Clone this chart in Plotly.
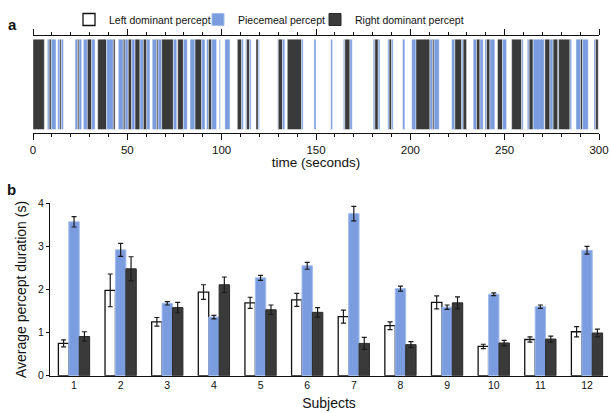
import plotly.graph_objects as go
import numpy as np

# ---------------- Panel a: percept timeline (seconds) ----------------
# P = piecemeal, R = right dominant; gaps are left-dominant (white)
seg_start = [0.0, 7.6, 8.6, 9.7, 13.1, 14.3, 15.1, 22.3, 23.6, 24.4, 26.7, 28.8, 31.1,
             34.3, 39.0, 42.6, 45.2, 47.9, 48.8, 50.5, 52.3, 54.1, 56.7, 58.5, 60.3,
             63.2, 65.5, 66.3, 68.2, 74.4, 76.7, 79.7, 83.2, 85.9, 89.4, 92.0, 93.0, 94.7,
             98.7, 101.7, 108.3, 110.6, 112.6, 113.2, 114.8, 118.2, 119.4,
             129.6, 130.0, 132.3, 134.8, 142.4, 148.9, 157.8, 164.5, 165.3, 168.0,
             180.3, 181.2, 183.0, 188.0, 188.8, 190.1, 195.9, 200.7, 203.0, 210.4, 211.8, 212.6,
             221.9, 223.6, 227.2, 228.0, 233.3, 235.1, 236.9, 239.5, 240.4, 242.2,
             246.2, 248.9, 253.7, 259.0, 262.0, 263.0, 265.1, 271.3, 274.0, 275.7, 278.2, 278.6,
             284.6, 287.8, 290.2, 291.3, 297.3, 298.2]
seg_end = [6.0, 8.6, 9.7, 12.2, 14.3, 15.1, 16.1, 23.6, 24.4, 25.8, 28.8, 31.1, 32.9,
           39.0, 42.6, 43.5, 47.9, 48.8, 50.5, 52.3, 54.1, 56.7, 58.5, 60.3, 62.0,
           65.5, 66.3, 68.2, 74.4, 76.2, 79.7, 81.8, 85.9, 89.4, 91.2, 93.0, 94.7, 97.3,
           99.3, 104.4, 110.6, 111.5, 113.2, 114.8, 115.6, 119.4, 120.0,
           130.0, 132.3, 133.5, 142.4, 143.2, 150.0, 158.8, 165.3, 168.0, 169.2,
           181.2, 183.0, 183.9, 188.8, 190.1, 190.9, 197.1, 203.0, 210.4, 211.8, 212.6, 215.3,
           223.6, 227.2, 228.0, 229.8, 235.1, 236.9, 238.6, 240.4, 242.2, 244.8,
           248.9, 251.0, 259.0, 259.8, 263.0, 265.1, 271.0, 274.0, 275.7, 278.2, 278.6, 284.6,
           285.5, 290.2, 291.3, 294.3, 298.2, 299.6]
seg_type = ['R', 'P', 'R', 'P', 'P', 'R', 'P', 'P', 'R', 'P', 'P', 'R', 'P',
            'R', 'P', 'R', 'P', 'R', 'P', 'R', 'P', 'R', 'P', 'R', 'P',
            'P', 'R', 'P', 'R', 'P', 'R', 'P', 'P', 'R', 'P', 'P', 'R', 'P',
            'P', 'P', 'R', 'P', 'P', 'R', 'P', 'R', 'P',
            'P', 'R', 'P', 'R', 'P', 'P', 'P', 'P', 'R', 'P',
            'P', 'R', 'P', 'P', 'R', 'P', 'P', 'P', 'R', 'P', 'R', 'P',
            'P', 'R', 'P', 'R', 'P', 'R', 'P', 'P', 'R', 'P',
            'R', 'P', 'R', 'P', 'P', 'R', 'P', 'R', 'P', 'R', 'P', 'R',
            'P', 'P', 'R', 'P', 'P', 'R']

time_ticks = [0, 50, 100, 150, 200, 250, 300]

# ---------------- Panel b: average percept durations ----------------
subjects = [str(i) for i in range(1, 13)]
left_mean = [0.75, 1.98, 1.25, 1.94, 1.69, 1.76, 1.37, 1.16, 1.70, 0.68, 0.84, 1.02]
left_err = [0.08, 0.38, 0.10, 0.17, 0.13, 0.15, 0.15, 0.09, 0.15, 0.05, 0.06, 0.12]
pm_mean = [3.57, 2.92, 1.68, 1.36, 2.27, 2.55, 3.76, 2.02, 1.59, 1.89, 1.60, 2.91]
pm_err = [0.12, 0.15, 0.04, 0.04, 0.06, 0.08, 0.17, 0.06, 0.05, 0.03, 0.04, 0.09]
right_mean = [0.91, 2.48, 1.58, 2.11, 1.53, 1.47, 0.75, 0.72, 1.69, 0.76, 0.85, 0.99]
right_err = [0.11, 0.28, 0.12, 0.18, 0.11, 0.11, 0.14, 0.07, 0.14, 0.06, 0.07, 0.09]

BLUE = '#7b9ddf'
DARK = '#3a3a3a'
FONT = 'Liberation Sans, Arial, sans-serif'

fig = go.Figure()

starts = np.array(seg_start)
durs = np.array(seg_end) - starts
cols = [BLUE if t == 'P' else DARK for t in seg_type]
fig.add_trace(go.Bar(
    orientation='h', y=[0] * len(starts), x=durs, base=starts,
    width=1, offset=-0.5, marker=dict(color=cols, line=dict(color='rgba(255,255,255,0.7)', width=0.6)),
    xaxis='x', yaxis='y', showlegend=False, hoverinfo='skip'))

x_idx = list(range(1, 13))
err_style = dict(type='data', color='#1a1a1a', thickness=1.2, width=2.5)
fig.add_trace(go.Bar(name='Left dominant percept', x=x_idx, y=left_mean,
                     error_y=dict(array=left_err, **err_style),
                     marker=dict(color='white', line=dict(color='#111111', width=1.3)),
                     xaxis='x2', yaxis='y2', legend='legend'))
fig.add_trace(go.Bar(name='Piecemeal percept', x=x_idx, y=pm_mean,
                     error_y=dict(array=pm_err, **err_style),
                     marker=dict(color=BLUE, line=dict(color='#a3bcec', width=1)),
                     xaxis='x2', yaxis='y2', legend='legend2'))
fig.add_trace(go.Bar(name='Right dominant percept', x=x_idx, y=right_mean,
                     error_y=dict(array=right_err, **err_style),
                     marker=dict(color=DARK, line=dict(color='#2a2a2a', width=1)),
                     xaxis='x2', yaxis='y2', legend='legend3'))

leg_common = dict(orientation='h', y=1 - 5 / 413, yanchor='top', xanchor='left',
                  font=dict(size=10.5), itemwidth=30, bgcolor='rgba(0,0,0,0)')

fig.update_layout(
    width=610, height=413,
    margin=dict(l=0, r=0, t=0, b=0, autoexpand=False),
    paper_bgcolor='white', plot_bgcolor='white',
    font=dict(family=FONT, size=11, color='#111111'),
    barmode='group', bargap=0.33, bargroupgap=0,
    showlegend=True,
    legend=dict(x=69 / 610, **leg_common),
    legend2=dict(x=198 / 610, **leg_common),
    legend3=dict(x=315 / 610, **leg_common),
    xaxis=dict(domain=[33 / 610, 599 / 610], range=[0, 300], anchor='y',
               tickvals=time_ticks, ticks='outside', ticklen=6, tickwidth=1, tickcolor='#111',
               showline=True, linecolor='#111', linewidth=1, mirror='ticks',
               showgrid=False, zeroline=False, automargin=False,
               minor=dict(dtick=10, ticklen=3, ticks='outside', tickcolor='#111', showgrid=False),
               tickfont=dict(size=11.5),
               title=dict(text='time (seconds)', font=dict(size=13.5), standoff=3)),
    yaxis=dict(domain=[1 - 132.7 / 413, 1 - 36 / 413], range=[-0.535, 0.535], anchor='x',
               visible=False, fixedrange=True, automargin=False),
    xaxis2=dict(domain=[50 / 610, 608 / 610], range=[0.485, 12.45], anchor='y2',
                tickvals=x_idx, ticktext=subjects, ticks='', showline=True,
                linecolor='#111', linewidth=1.3, showgrid=False, zeroline=False,
                tickfont=dict(size=10.5), automargin=False,
                title=dict(text='Subjects', font=dict(size=14), standoff=7)),
    yaxis2=dict(domain=[1 - 375.7 / 413, 1 - 203.3 / 413], range=[0, 4], anchor='x2',
                tickvals=[0, 1, 2, 3, 4], ticks='outside', ticklen=3, tickcolor='#111',
                showline=True, linecolor='#111', linewidth=1.3, showgrid=False,
                zeroline=False, tickfont=dict(size=10.5), automargin=False,
                title=dict(text='Average percept duration (s)', font=dict(size=14), standoff=8)),
    annotations=[
        dict(text='<b>a</b>', x=6 / 610, y=1 - 24 / 413, xref='paper', yref='paper',
             xanchor='left', yanchor='middle', showarrow=False, font=dict(size=15)),
        dict(text='<b>b</b>', x=5 / 610, y=1 - 189 / 413, xref='paper', yref='paper',
             xanchor='left', yanchor='middle', showarrow=False, font=dict(size=15)),
    ],
)

fig.write_html('out.html', config={'displayModeBar': False},
               post_script="document.body.style.margin='0';document.body.style.padding='0';")
